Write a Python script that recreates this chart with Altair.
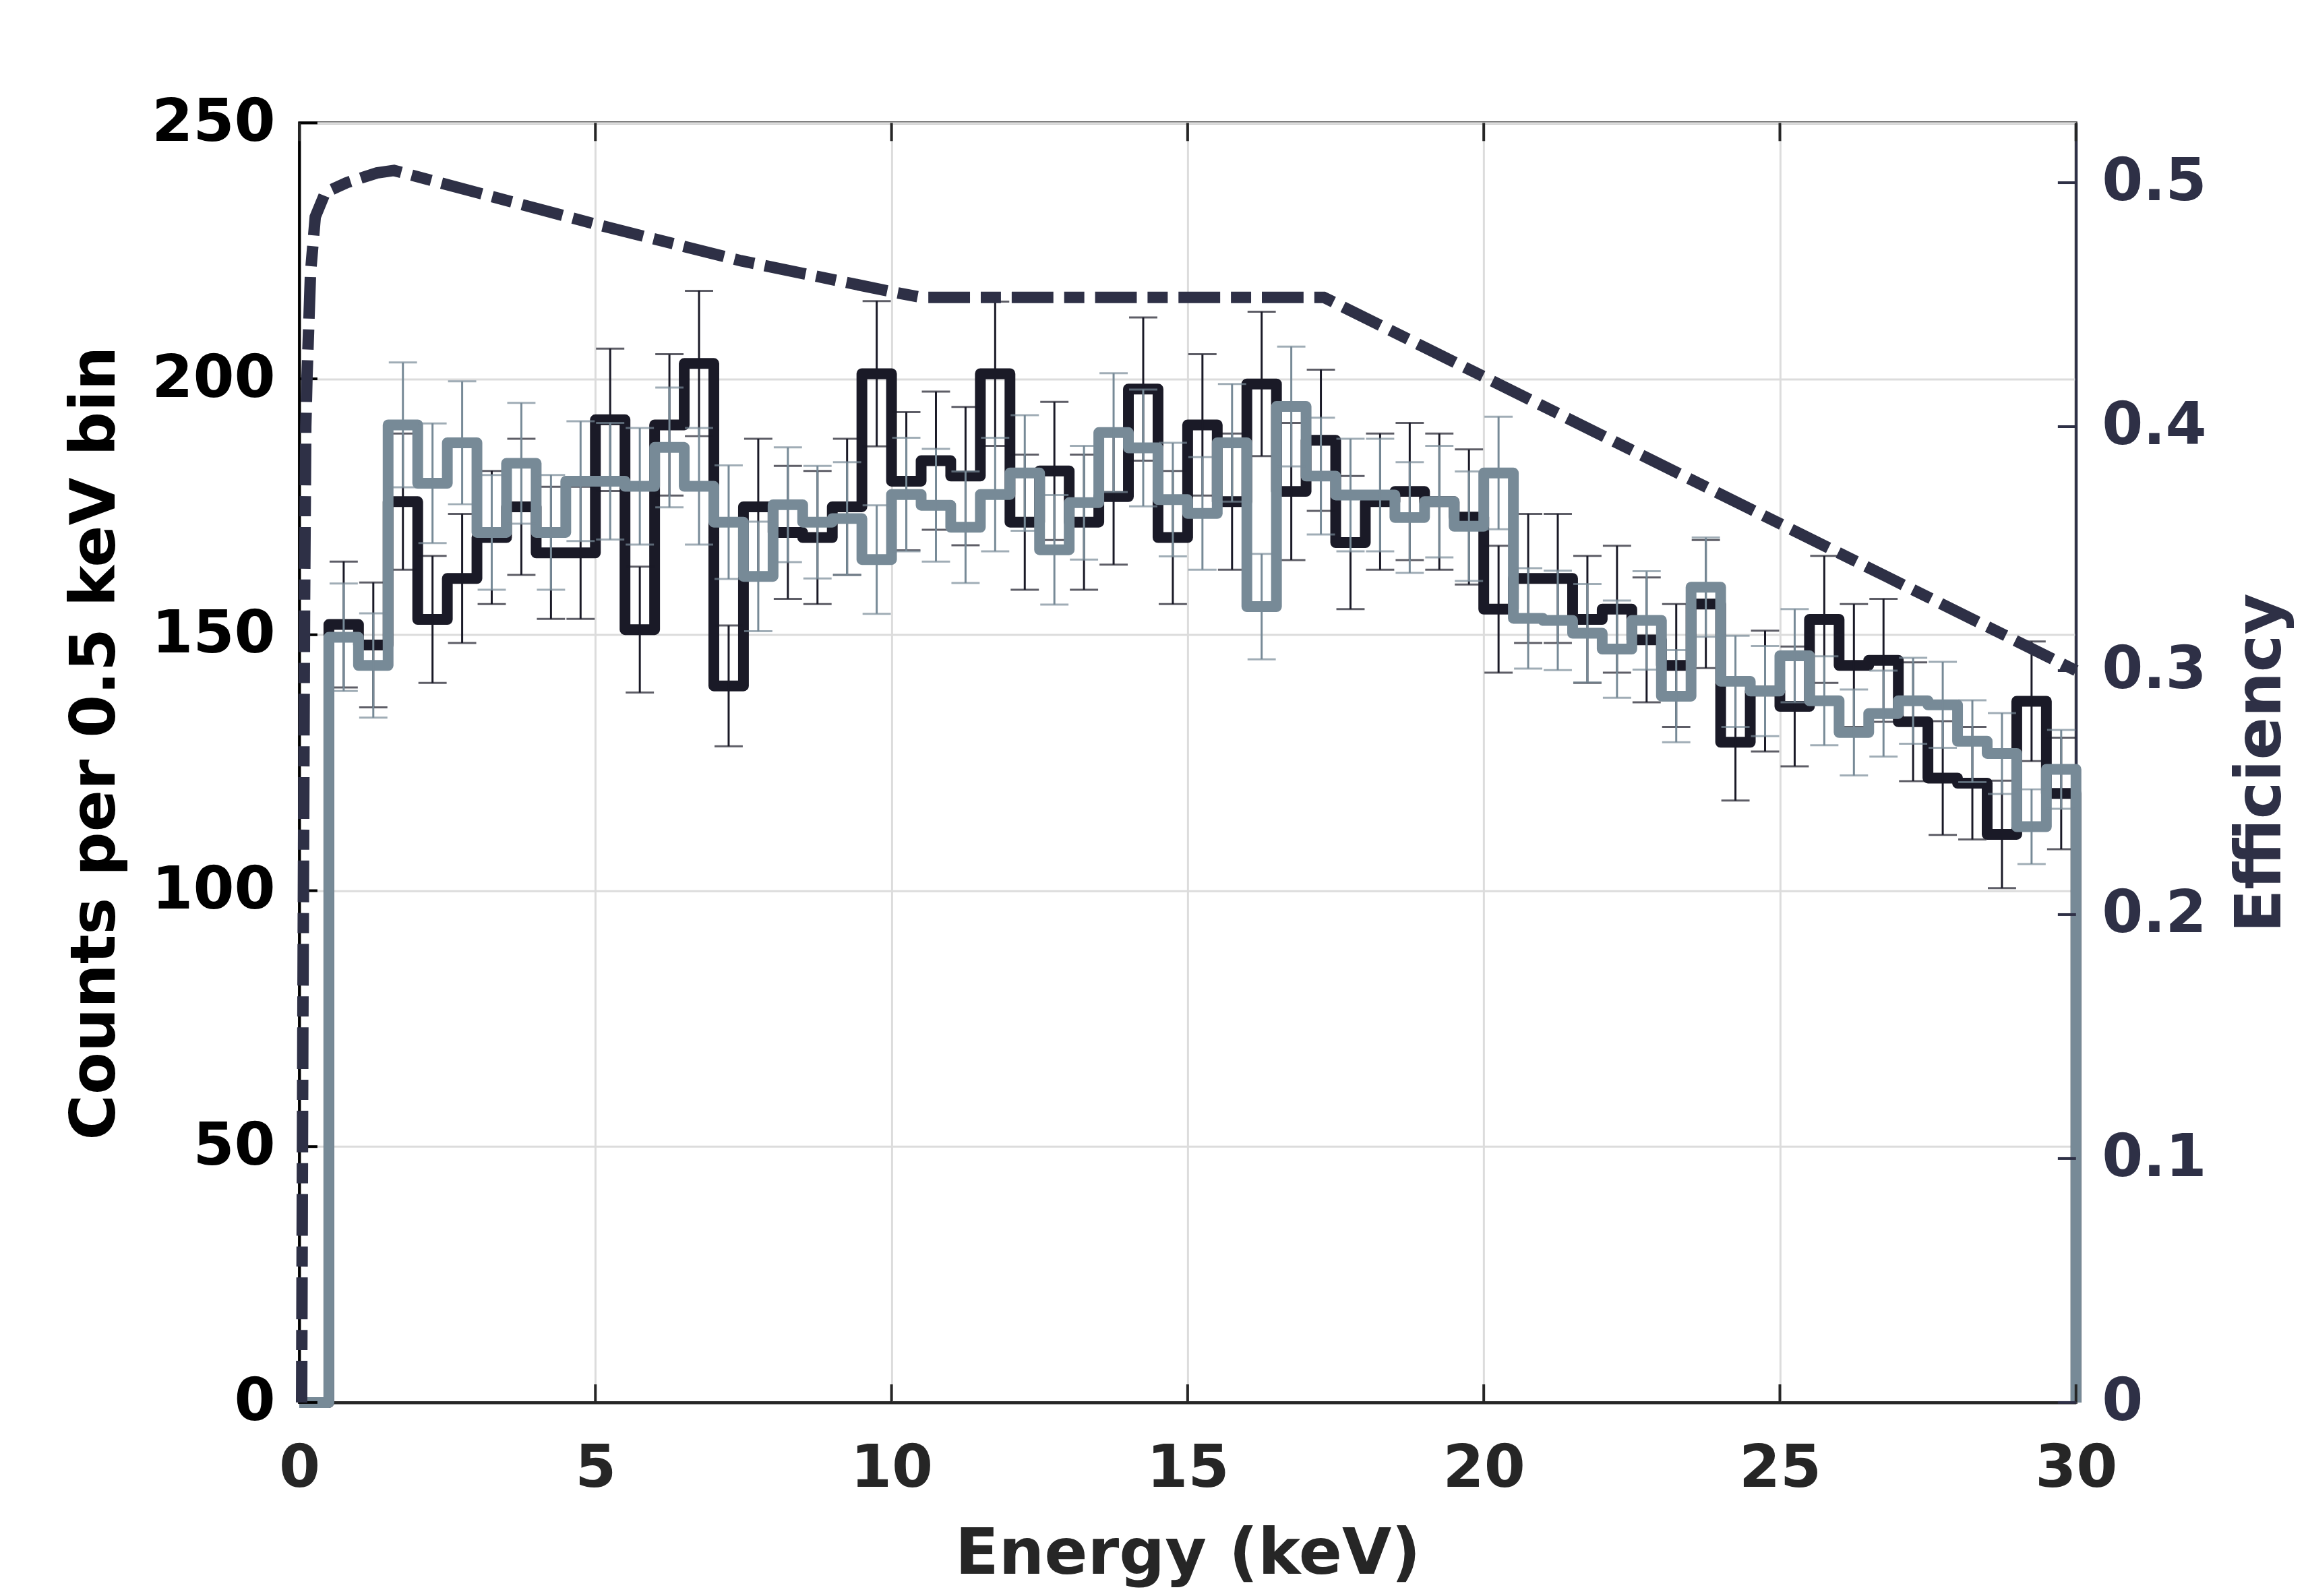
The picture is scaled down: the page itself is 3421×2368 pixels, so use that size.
import altair as alt
import pandas as pd

# ---------------- data ----------------
bin_width = 0.5
first_bin_left = 0.5
x_ticks = [0, 5, 10, 15, 20, 25, 30]
left_ticks = [0, 50, 100, 150, 200, 250]
right_ticks = [0, 0.1, 0.2, 0.3, 0.4, 0.5]

black_counts = [152, 148, 176, 153, 161, 169, 175, 166, 166, 192,
                151, 191, 203, 140, 175, 170, 169, 175, 201, 180,
                184, 181, 201, 172, 182, 172, 177, 198, 169, 191,
                176, 199, 178, 188, 168, 176, 178, 176, 173, 155,
                161, 161, 153, 155, 149, 144, 156, 129, 139, 136,
                153, 144, 145, 133, 122, 121, 111, 137, 119]
black_err = [12.3, 12.2, 13.3, 12.4, 12.6, 13.0, 13.3, 12.9, 12.9, 13.9,
             12.3, 13.8, 14.2, 11.8, 13.3, 13.0, 13.0, 13.3, 14.2, 13.5,
             13.5, 13.5, 14.1, 13.2, 13.5, 13.2, 13.3, 14.0, 13.0, 13.8,
             13.3, 14.1, 13.4, 13.8, 13.0, 13.3, 13.4, 13.3, 13.2, 12.4,
             12.6, 12.6, 12.4, 12.4, 12.2, 12.0, 12.5, 11.4, 11.8, 11.7,
             12.4, 12.0, 12.0, 11.6, 11.1, 11.0, 10.5, 11.7, 10.9]
gray_counts = [149.5, 144, 191, 179.6, 187.5, 170, 183.5, 170, 180, 180,
               179, 186.6, 179, 172, 161.4, 175.4, 172, 172.7, 164.7, 177.4,
               175.3, 171, 177.4, 181.6, 166.6, 175.8, 189.5, 186.5, 176.4, 173.7,
               187.5, 155.5, 194.6, 181, 177.3, 177.3, 172.9, 176, 171.2, 181.6,
               153.2, 152.8, 150.3, 147.2, 152.8, 138, 159.3, 140.9, 139, 145.9,
               137.1, 130.9, 134.6, 137.1, 136.3, 129.2, 126.8, 112.5, 123.7]
gray_err = [10.5, 10.2, 12.2, 11.7, 12.0, 11.2, 11.8, 11.2, 11.7, 11.4,
            11.4, 11.7, 11.4, 11.1, 10.7, 11.2, 11.0, 11.0, 10.6, 11.1,
            11.0, 10.9, 11.1, 11.3, 10.7, 11.1, 11.6, 11.4, 11.1, 11.0,
            11.5, 10.3, 11.7, 11.4, 11.0, 11.0, 10.8, 10.9, 10.7, 11.0,
            9.8, 9.7, 9.6, 9.5, 9.6, 9.0, 9.7, 8.9, 8.8, 9.1,
            8.7, 8.4, 8.4, 8.4, 8.4, 8.0, 7.9, 7.3, 7.7]

eff_energy = [0.04, 0.06, 0.09, 0.11, 0.13, 0.19, 0.27, 0.44, 0.8, 1.31,
              1.6, 5.0, 7.46, 10.06, 10.5, 17.3, 30.0]
eff_value = [0.0, 0.15, 0.33, 0.40, 0.42, 0.463, 0.486, 0.496, 0.500, 0.504,
             0.505, 0.483, 0.468, 0.455, 0.453, 0.453, 0.300]

# ---------------- styling ----------------
W, H = 2642, 1903
FONT = "DejaVu Sans"
BLACK_SERIES = "#1a1a27"
GRAY_SERIES = "#778a97"
EFF_COLOR = "#2e3046"
AX_GRAY = "#262626"
GRID = "#dcdcdc"
TICK_LEN = 27
HIST_W = 16

n = len(black_counts)
left_edges = [first_bin_left + i * bin_width for i in range(n)]
centers = [e + bin_width / 2 for e in left_edges]
step_x = [0.0] + left_edges + [left_edges[-1] + bin_width]


def step_df(counts):
    return pd.DataFrame({"e": step_x, "v": [0] + list(counts) + [0]})


def err_df(counts, errs):
    return pd.DataFrame({
        "c": centers,
        "lo": [v - s for v, s in zip(counts, errs)],
        "hi": [v + s for v, s in zip(counts, errs)],
    })


x_axis = alt.Axis(values=x_ticks, title="Energy (keV)", grid=True, gridColor=GRID,
                  gridWidth=3, ticks=False, domainColor=AX_GRAY, domainWidth=4,
                  labelFont=FONT, labelFontSize=88, labelFontWeight="bold",
                  labelColor=AX_GRAY, labelPadding=55, labelFlush=False, labelLimit=0,
                  titleFont=FONT, titleFontSize=95, titleFontWeight="bold",
                  titleColor=AX_GRAY, titlePadding=36)
x_scale = alt.Scale(domain=[0, 30], nice=False, zero=False)


def X(field):
    return alt.X(f"{field}:Q", scale=x_scale, axis=x_axis)


y_axis = alt.Axis(values=left_ticks, title="Counts per 0.5 keV bin", grid=True,
                  gridColor=GRID, gridWidth=3, ticks=False, domainColor="black",
                  domainWidth=4, labelFont=FONT, labelFontSize=88,
                  labelFontWeight="bold", labelColor="black", labelPadding=36,
                  labelFlush=False, labelLimit=0, titleFont=FONT, titleFontSize=92,
                  titleFontWeight="bold", titleColor="black", titlePadding=56,
                  titleLimit=0, titleY=922)
y_scale = alt.Scale(domain=[0, 250], nice=False, zero=True)


def Y(field):
    return alt.Y(f"{field}:Q", scale=y_scale, axis=y_axis)


e_axis = alt.Axis(values=right_ticks, orient="right", title="Efficiency", grid=False,
                  ticks=False, domainColor=EFF_COLOR, domainWidth=4, format=".1~f",
                  labelFont=FONT, labelFontSize=88, labelFontWeight="bold",
                  labelColor=EFF_COLOR, labelPadding=38, labelFlush=False, labelLimit=0,
                  titleFont=FONT, titleFontSize=94, titleFontWeight="bold",
                  titleColor=EFF_COLOR, titleAngle=270, titleBaseline="top",
                  titlePadding=36, titleLimit=0)
e_scale = alt.Scale(domain=[0, 0.5245], nice=False, zero=True)


def YE(field):
    return alt.Y(f"{field}:Q", scale=e_scale, axis=e_axis)


def hist_layers(counts, errs, color, lw):
    line = alt.Chart(step_df(counts)).mark_line(
        interpolate="step-after", color=color, strokeWidth=lw, strokeJoin="round"
    ).encode(x=X("e"), y=Y("v"))
    ed = err_df(counts, errs)
    bars = alt.Chart(ed).mark_rule(color=color, strokeWidth=3).encode(
        x=X("c"), y=Y("lo"), y2=alt.Y2("hi:Q"))
    cap_hi = alt.Chart(ed).mark_tick(color=color, orient="horizontal", size=42,
                                     thickness=3).encode(x=X("c"), y=Y("hi"))
    cap_lo = alt.Chart(ed).mark_tick(color=color, orient="horizontal", size=42,
                                     thickness=3).encode(x=X("c"), y=Y("lo"))
    return [line, bars, cap_hi, cap_lo]


left_tick_df = pd.DataFrame({"v": left_ticks})
x_tick_df = pd.DataFrame({"e": x_ticks})
right_tick_df = pd.DataFrame({"t": right_ticks})

ltick = alt.Chart(left_tick_df).mark_rule(color="black", strokeWidth=4).encode(
    y=Y("v"), x=alt.value(0), x2=alt.value(TICK_LEN))
btick = alt.Chart(x_tick_df).mark_rule(color=AX_GRAY, strokeWidth=4).encode(
    x=X("e"), y=alt.value(H), y2=alt.value(H - TICK_LEN))
ttick = alt.Chart(x_tick_df).mark_rule(color=AX_GRAY, strokeWidth=4).encode(
    x=X("e"), y=alt.value(0), y2=alt.value(TICK_LEN))

counts_group = alt.layer(
    *hist_layers(black_counts, black_err, BLACK_SERIES, HIST_W),
    *hist_layers(gray_counts, gray_err, GRAY_SERIES, HIST_W),
    ltick, btick, ttick,
)

eff_df = pd.DataFrame({"e": eff_energy, "t": eff_value})
eff_line = alt.Chart(eff_df).mark_line(
    color=EFF_COLOR, strokeWidth=17, strokeDash=[62, 16, 30, 16], strokeCap="butt"
).encode(x=X("e"), y=YE("t"))
rtick = alt.Chart(right_tick_df).mark_rule(color=EFF_COLOR, strokeWidth=4).encode(
    y=YE("t"), x=alt.value(W - TICK_LEN), x2=alt.value(W))

eff_group = alt.layer(eff_line, rtick)

chart = alt.layer(counts_group, eff_group).resolve_scale(y="independent").properties(
    width=W, height=H,
    padding={"left": 437, "top": 172, "right": 334, "bottom": 285},
    autosize=alt.AutoSizeParams(type="none"),
    background="white",
).configure_view(stroke=AX_GRAY, strokeWidth=4)

chart.save("out.html", embed_options={"renderer": "svg", "actions": False})
